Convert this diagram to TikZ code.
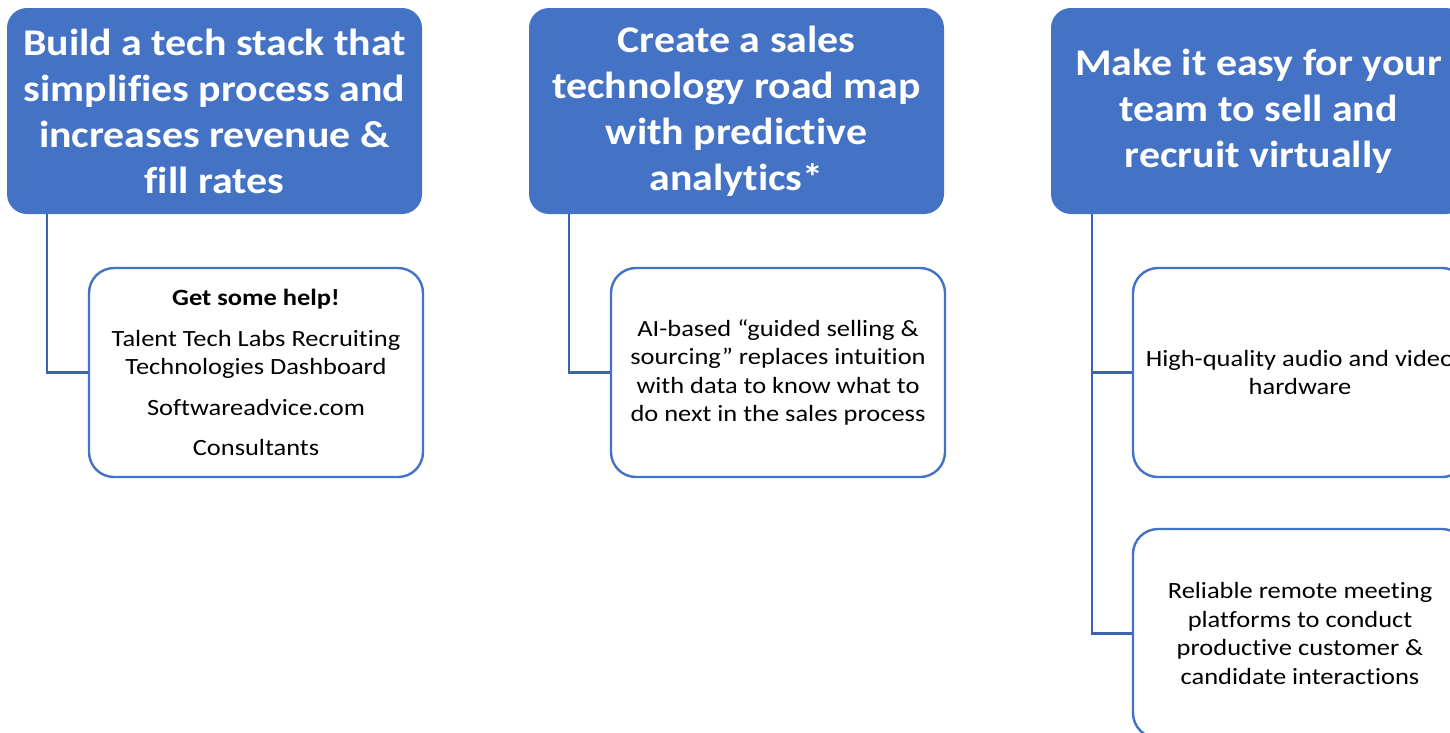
\documentclass[tikz,border=0pt]{standalone}
\usepackage{fontspec}
\setmainfont{Carlito}
\newfontfamily\headfont{Carlito}[FakeStretch=1.11, Ligatures=NoCommon]
\newfontfamily\itemfont{Carlito}[FakeStretch=1.135, Ligatures=NoCommon]
\usetikzlibrary{calc}
\definecolor{hblue}{HTML}{4472C4}
\definecolor{lineblue}{HTML}{3B63AE}
\begin{document}
\begin{tikzpicture}[x=1pt,y=-1pt,
  header/.style={fill=hblue, draw=none, rounded corners=20pt,
    minimum width=415pt, minimum height=206pt, text=white, align=center,
    font=\headfont\fontsize{37.7pt}{46pt}\selectfont\bfseries, inner sep=0pt},
  child/.style={fill=white, draw=hblue, line width=2.4pt, rounded corners=25pt,
    minimum width=334pt, minimum height=209pt, text=black, align=center,
    font=\itemfont\fontsize{23.3pt}{28.6pt}\selectfont, inner sep=0pt},
  conn/.style={draw=lineblue, line width=2.2pt}]
\useasboundingbox (0,0) rectangle (1450,732);
\fill[white] (0,0) rectangle (1450,732);

% column headers
\node[header] (h1) at (214.5,111) {Build a tech stack that\\simplifies process and\\increases revenue \&\\fill rates};
\node[header] (h2) at (736.5,111) {Create a sales\\technology road map\\with predictive\\analytics*};
\node[header] (h3) at (1258.5,111) {Make it easy for your\\team to sell and\\recruit virtually};

% item boxes
\node[child] (c1) at (256,372.5) {\textbf{Get some help!}\\[12pt]Talent Tech Labs Recruiting\\Technologies Dashboard\\[12pt]Softwareadvice.com\\[12pt]Consultants};
\node[child] (c2) at (778,372.5) {AI-based “guided selling \&\\sourcing” replaces intuition\\with data to know what to\\do next in the sales process};
\node[child] (c3) at (1300,372.5) {High-quality audio and video\\hardware};
\node[child] (c4) at (1300,633.5) {Reliable remote meeting\\platforms to conduct\\productive customer \&\\candidate interactions};

% elbow connectors from each header down to its items
\coordinate (t1) at ($(h1.south west)+(40,0)$);
\coordinate (t2) at ($(h2.south west)+(40,0)$);
\coordinate (t3) at ($(h3.south west)+(41,0)$);
\draw[conn] (t1) |- (c1.west);
\draw[conn] (t2) |- (c2.west);
\draw[conn] (t3) |- (c4.west);
\draw[conn] (t3 |- c3.west) -- (c3.west);
\end{tikzpicture}
\end{document}
